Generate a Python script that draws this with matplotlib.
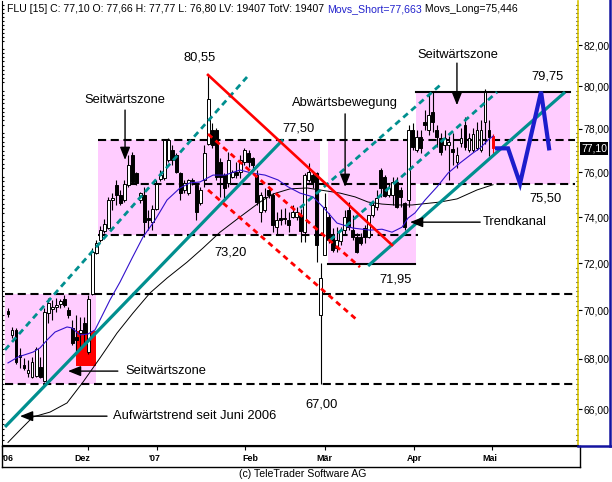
import matplotlib
matplotlib.use('Agg')
import matplotlib.pyplot as plt
from matplotlib.patches import Rectangle
from matplotlib.lines import Line2D
from matplotlib.ticker import FixedLocator, NullFormatter, FuncFormatter
from matplotlib.transforms import blended_transform_factory
import matplotlib.font_manager as fm
import numpy as np

names = {f.name for f in fm.fontManager.ttflist}
SANS = 'Liberation Sans' if 'Liberation Sans' in names else 'DejaVu Sans'
NARROW = 'Liberation Sans Narrow' if 'Liberation Sans Narrow' in names else SANS
plt.rcParams['font.family'] = [SANS, 'DejaVu Sans']

# ---------------- data (daily OHLC, index = trading day) ----------------
opens = [69.97, 68.98, 69.19, 68.17, 67.76, 67.44, 67.28, 67.32, 67.68, 67.12,
         69.89, 70.06, 70.14, 70.26, 70.48, 70.01, 69.27, 68.90, 69.06, 69.48,
         68.29, 70.69, 72.43, 73.00, 73.40, 73.52, 74.76, 75.44, 74.99, 74.76,
         75.44, 76.80, 75.97, 74.76, 74.99, 73.96, 73.78, 74.36, 75.70, 75.75,
         76.57, 77.02, 76.80, 75.97, 75.21, 75.07, 75.62, 75.44, 74.63, 75.66,
         77.30, 77.95, 77.95, 76.48, 75.88, 75.53, 75.79, 76.02, 76.02, 76.48,
         76.89, 76.66, 75.88, 74.23, 74.32, 75.21, 74.99, 73.56, 73.96, 73.96,
         73.87, 74.01, 74.01, 74.05, 73.34, 75.66, 75.88, 75.97, 69.81, 72.34,
         74.01, 73.21, 72.65, 72.95, 73.43, 74.32, 73.43, 73.13, 73.13, 73.52,
         73.13, 74.10, 74.45, 76.11, 75.79, 74.99, 74.99, 75.57, 75.21, 74.63,
         74.76, 77.95, 77.02, 77.62, 78.32, 77.95, 78.79, 77.95, 77.57, 77.25,
         77.25, 77.07, 76.48, 77.35, 78.18, 77.02, 77.02, 77.12, 77.02, 78.32,
         77.95, 77.66]
highs = [70.10, 69.31, 69.27, 68.45, 68.04, 67.96, 68.08, 68.49, 68.08, 70.10,
         70.52, 70.44, 70.52, 70.48, 70.64, 70.14, 69.60, 69.81, 69.72, 69.72,
         70.64, 72.65, 72.99, 73.60, 73.90, 74.90, 75.07, 75.66, 75.21, 75.66,
         76.80, 76.93, 76.02, 75.12, 75.35, 74.32, 74.54, 75.66, 76.10, 77.50,
         77.57, 77.25, 76.89, 76.02, 75.66, 75.70, 75.75, 75.53, 75.35, 77.25,
         80.55, 78.27, 78.04, 76.66, 75.97, 76.93, 76.11, 76.48, 76.80, 77.12,
         77.02, 76.70, 76.11, 75.12, 75.30, 75.35, 75.07, 74.23, 74.36, 74.41,
         74.23, 74.54, 74.45, 74.36, 75.97, 76.43, 76.02, 76.02, 72.00, 75.07,
         74.19, 73.52, 73.56, 73.56, 74.32, 74.67, 74.10, 73.30, 73.30, 73.65,
         74.10, 74.67, 75.21, 76.20, 75.88, 75.53, 75.79, 75.79, 75.35, 74.67,
         78.18, 78.27, 77.95, 77.95, 78.88, 79.73, 79.73, 78.18, 77.80, 77.95,
         77.66, 77.80, 77.16, 78.04, 78.55, 77.80, 78.04, 78.32, 78.41, 79.90,
         78.41, 77.77]
lows = [69.72, 68.86, 67.80, 67.64, 67.56, 67.28, 67.24, 67.28, 67.24, 67.08,
        69.48, 69.60, 69.93, 70.10, 70.14, 69.68, 68.57, 68.25, 68.45, 68.65,
        68.21, 70.64, 72.38, 72.90, 73.30, 73.47, 74.32, 74.54, 74.54, 74.67,
        75.35, 75.53, 75.44, 74.63, 73.13, 73.43, 73.43, 74.32, 75.60, 75.66,
        76.48, 76.34, 75.97, 74.76, 75.07, 74.99, 75.44, 73.87, 74.54, 75.35,
        77.25, 77.10, 75.66, 74.90, 74.85, 75.35, 75.75, 75.75, 75.75, 76.34,
        76.25, 76.11, 74.54, 73.78, 74.23, 74.85, 73.34, 73.21, 73.65, 73.70,
        73.34, 73.96, 73.87, 72.91, 72.91, 75.57, 75.30, 72.04, 67.00, 72.34,
        72.86, 72.47, 72.47, 72.78, 73.21, 73.43, 72.99, 72.43, 72.78, 72.86,
        73.08, 74.01, 74.32, 74.90, 74.90, 74.90, 74.54, 74.41, 74.45, 73.43,
        74.45, 77.02, 76.93, 76.89, 77.95, 77.72, 77.86, 77.16, 76.80, 77.02,
        75.66, 76.34, 76.20, 77.16, 77.02, 76.93, 76.93, 77.02, 76.93, 77.30,
        76.75, 76.80]
closes = [69.85, 69.19, 67.88, 68.09, 67.64, 67.56, 67.88, 68.41, 67.28, 69.93,
          70.31, 70.14, 70.22, 70.39, 70.22, 69.81, 68.65, 68.77, 69.19, 69.06,
          70.48, 72.47, 72.86, 73.45, 73.70, 74.76, 74.85, 74.99, 74.63, 75.48,
          76.34, 75.57, 75.53, 75.07, 73.78, 73.87, 74.36, 75.48, 75.90, 77.48,
          77.48, 76.57, 76.02, 75.07, 75.53, 75.66, 75.66, 74.23, 75.21, 76.89,
          79.40, 77.25, 75.79, 75.79, 75.30, 76.57, 76.02, 75.88, 76.57, 77.02,
          76.48, 76.34, 74.67, 74.99, 74.90, 74.99, 73.65, 73.87, 73.87, 73.92,
          73.65, 74.23, 74.23, 73.38, 75.88, 76.02, 75.57, 72.78, 71.36, 74.45,
          72.99, 72.56, 72.99, 73.43, 74.01, 73.56, 73.13, 72.47, 72.86, 73.13,
          74.10, 74.54, 74.85, 75.30, 74.94, 75.30, 75.57, 74.45, 74.90, 73.56,
          77.95, 77.16, 77.62, 77.12, 78.18, 78.65, 78.32, 77.62, 76.93, 77.57,
          77.39, 76.93, 76.80, 77.57, 77.16, 77.57, 77.76, 77.95, 77.95, 79.73,
          77.62, 77.10]

# moving averages
ma_short_x = [0, 2.5, 6.24, 7.98, 9.73, 11.73, 14.72, 15.97, 17.96, 19.96, 21.71, 22.95,
              25.45, 27.94, 30.94, 33.68, 36.68, 39.67, 42.91, 45.41, 47.9, 51.15, 54.14,
              57.88, 60.88, 64.12, 67.37, 69.86, 72.85, 76.1, 78.59, 82.08, 86.08, 90.32,
              93.31, 95.81, 98.3, 99.8, 101.55, 104.04, 107.04, 109.78, 112.77, 116.02,
              117.76, 119.76, 121]
ma_short_y = [67.84, 68.08, 68.28, 68.45, 68.77, 69.10, 69.31, 69.27, 68.98, 69.02, 69.19, 69.60,
              70.44, 71.19, 72.21, 73.13, 73.87, 74.76, 75.30, 75.53, 75.57, 75.88, 75.88,
              76.11, 75.97, 75.88, 75.66, 75.35, 75.07, 74.90, 74.45, 73.74, 73.52, 73.43,
              73.47, 73.34, 73.56, 73.96, 74.19, 74.76, 75.35, 75.97, 76.43, 76.89,
              77.11, 77.48, 77.663]
ma_long_x = [0, 3, 6.24, 10.48, 14.72, 18.71, 22.95, 27.2, 31.19, 35.43, 39.67, 44.66,
             48.65, 52.89, 57.88, 62.87, 66.12, 70.36, 74.6, 77.84, 82.83, 86.58, 89.82,
             93.31, 96.56, 100.8, 107.78, 112.03, 117.0, 121]
ma_long_y = [64.70, 65.18, 65.69, 65.88, 66.24, 67.07, 68.04, 69.06, 69.89, 70.73, 71.36, 72.04,
             72.65, 73.34, 74.01, 74.67, 75.03, 75.26, 75.30, 75.21, 75.07, 74.90, 74.67,
             74.58, 74.54, 74.54, 74.67, 74.81, 75.21, 75.446]

# zones (x0, x1, price_low, price_high)
zones = [(-0.75, 21.96, 67.0, 70.7), (22.45, 77.84, 73.2, 77.5),
         (79.84, 101.8, 71.95, 77.5), (101.8, 140.2, 75.5, 79.75)]
red_zone = (16.97, 21.96, 67.71, 69.14)
dashed_levels = [(77.5, 22.45, 141.5), (75.5, 29.9, 141.5), (73.2, 22.45, 102.3),
                 (70.7, -0.75, 141.5), (67.0, -0.75, 141.5)]
solid_levels = [(79.75, 101.8, 140.2), (71.95, 79.84, 101.55)]

teal_solid = [((-0.75, 65.30), (68.6, 77.5)), ((89.82, 71.88), (138.97, 79.73))]
teal_dashed = [((-0.75, 68.37), (59.63, 80.45)), ((72.85, 74.41), (107.8, 80.06)),
               ((80.34, 72.99), (122.0, 79.73))]
red_solid = [((49.9, 80.55), (95.81, 72.78))]
red_dashed = [((49.9, 77.76), (87.82, 71.83)), ((49.9, 75.21), (87.08, 69.60))]

proj_x = [122.0, 124.75, 127.74, 132.98, 134.98]
proj_y = [77.1, 77.1, 75.5, 79.75, 77.1]

arrows = [((29.2, 78.88), (29.2, 76.57)), ((84.1, 78.7), (84.1, 75.35)),
          ((112.0, 81.12), (112.0, 79.11)), ((117.8, 73.78), (100.3, 73.78)),
          ((27.4, 67.51), (14.97, 67.51)), ((24.7, 65.72), (3.0, 65.72))]
labels = [("Seitwärtszone", 29.2, 79.35, 'center'), ("80,55", 47.9, 81.37, 'center'),
          ("77,50", 72.6, 78.04, 'center'), ("73,20", 55.6, 72.47, 'center'),
          ("Abwärtsbewegung", 84.1, 79.2, 'center'), ("Seitwärtszone", 112.3, 81.51, 'center'),
          ("79,75", 134.5, 80.49, 'center'), ("75,50", 134.0, 74.85, 'center'),
          ("Trendkanal", 118.5, 73.78, 'left'), ("71,95", 96.6, 71.31, 'center'),
          ("67,00", 78.3, 66.16, 'center'), ("Seitwärtszone", 29.2, 67.51, 'left'),
          ("Aufwärtstrend seit Juni 2006", 26.2, 65.72, 'left')]

month_ticks = [19.96, 37.18, 59.13, 79.09, 101.3, 120.76]
month_label_pos = [-0.2, 18.46, 36.43, 60.38, 78.84, 101.3, 120.26]
month_labels = ["'06", "Dez", "'07", "Feb", "Mär", "Apr", "Mai"]
price_ticks = [66, 68, 70, 72, 74, 76, 78, 80, 82]

title_main = "FLU [15] C: 77,10 O: 77,66 H: 77,77 L: 76,80 LV: 19407 TotV: 19407 "
title_short = "Movs_Short=77,663"
title_long = " Movs_Long=75,446"
last_price = 77.10

# ---------------- figure ----------------
W, H = 612, 482
fig = plt.figure(figsize=(W / 100, H / 100), dpi=100)
fig.patch.set_facecolor('white')

def fx(px):
    return px / W

def fy(py):
    return 1 - py / H

XL = (-1.497, 142.2)
ax = fig.add_axes([fx(2), fy(445), 576 / W, 444 / H])
ax.set_yscale('log')
ax.set_ylim(64.60, 84.18)
ax.set_xlim(*XL)
ax.set_facecolor('white')

PINK = '#ffccff'
TEAL = '#008f8f'
for x0, x1, p0, p1 in zones:
    ax.add_patch(Rectangle((x0, p0), x1 - x0, p1 - p0, facecolor=PINK, edgecolor='none', zorder=1))
x0, x1, p0, p1 = red_zone
ax.add_patch(Rectangle((x0, p0), x1 - x0, p1 - p0, facecolor='#ff0000', edgecolor='none', zorder=1.5))

for p, a, b in dashed_levels:
    ax.plot([a, b], [p, p], color='black', lw=1.5, linestyle=(0, (3.9, 2.2)), zorder=2)
for p, a, b in solid_levels:
    ax.plot([a, b], [p, p], color='black', lw=1.5, zorder=2)

# candles
o = np.array(opens); h = np.array(highs); l = np.array(lows); c = np.array(closes)
xi = np.arange(len(o))
n = len(o)
wick_col = ['black'] * (n - 1) + ['#ff0000']
ax.vlines(xi, l, h, colors=wick_col, lw=0.8, zorder=3)
lo = np.minimum(o, c); hi = np.maximum(o, c)
hgt = np.maximum(hi - lo, 0.04)
face = ['white' if cc >= oo else 'black' for oo, cc in zip(o, c)]
edge = ['black'] * n
face[-1] = '#ff0000'; edge[-1] = '#ff0000'
ax.bar(xi, hgt, bottom=lo, width=0.72, color=face, edgecolor=edge, linewidth=0.7, zorder=3.1)

# moving averages
ax.plot(ma_long_x, ma_long_y, color='black', lw=0.7, zorder=4)
ax.plot(ma_short_x, ma_short_y, color='#3311cc', lw=0.8, zorder=4)

# trend lines
for (a, b) in teal_solid:
    ax.plot([a[0], b[0]], [a[1], b[1]], color=TEAL, lw=2.3, solid_capstyle='butt', zorder=5)
for (a, b) in teal_dashed:
    ax.plot([a[0], b[0]], [a[1], b[1]], color=TEAL, lw=2.0, linestyle=(0, (2.2, 1.6)), zorder=5)
for (a, b) in red_solid:
    ax.plot([a[0], b[0]], [a[1], b[1]], color='#ff0000', lw=1.9, zorder=5)
for (a, b) in red_dashed:
    ax.plot([a[0], b[0]], [a[1], b[1]], color='#ff0000', lw=2.0, linestyle=(0, (2.0, 1.6)), zorder=5)

ax.plot(proj_x, proj_y, color='#1c1ccc', lw=3.0, solid_joinstyle='miter', zorder=5)

for tail, head in arrows:
    ax.annotate('', xy=head, xytext=tail,
                arrowprops=dict(arrowstyle='-|>,head_length=0.55,head_width=0.22',
                                color='black', lw=1.0, shrinkA=0, shrinkB=0,
                                mutation_scale=14), zorder=6)
for txt, xv, pv, ha in labels:
    ax.text(xv, pv, txt, ha=ha, va='center', fontsize=9.3, color='black', zorder=6)

# axes styling
ax.spines['top'].set_visible(False)
ax.spines['left'].set_color('black')
ax.spines['bottom'].set_color('black')
ax.spines['right'].set_color('#d8c400')
ax.spines['right'].set_linewidth(1.2)
ax.set_xticks([])
ax.yaxis.tick_right()
ax.yaxis.set_major_locator(FixedLocator(price_ticks))
ax.yaxis.set_major_formatter(FuncFormatter(lambda v, p: f"{v:.2f}".replace('.', ',')))
ax.yaxis.set_minor_locator(FixedLocator(np.arange(64.6, 84.2, 0.2)))
ax.yaxis.set_minor_formatter(NullFormatter())
ax.tick_params(axis='y', which='major', right=True, left=False, direction='out',
               length=3, width=0.8, pad=1, labelsize=7.5, labelright=True, labelleft=False)
ax.tick_params(axis='y', which='minor', right=True, left=True, direction='in',
               length=1.5, width=0.8)

tr = blended_transform_factory(ax.transAxes, ax.transData)
ax.text(1 + 3 / 576, last_price, f"{last_price:.2f}".replace('.', ','), transform=tr,
        ha='left', va='center', fontsize=7.5, color='white',
        bbox=dict(boxstyle='square,pad=0.12', fc='black', ec='none'), zorder=10, clip_on=False)

# bottom date strip
ax2 = fig.add_axes([fx(2), fy(467), 578 / W, 21 / H])
ax2.set_xlim(XL[0], XL[0] + 578 / 4.008)
ax2.set_ylim(0, 1)
ax2.set_yticks([])
ax2.set_xticks(month_ticks)
ax2.tick_params(axis='x', direction='in', top=True, bottom=False, labelbottom=False,
                length=3, width=0.8)
for s in ax2.spines.values():
    s.set_color('black'); s.set_linewidth(1.0)
nfs = 7.4 if NARROW != SANS else 6.4
for pos, lab in zip(month_label_pos, month_labels):
    ax2.text(pos, 0.42, lab, ha='center', va='center', fontsize=nfs, family=NARROW,
             fontweight='bold')

fig.text(fx(303), fy(474), "(c) TeleTrader Software AG", ha='center', va='center', fontsize=7.6)

# blue frame around price scale
fig.add_artist(Line2D([fx(610), fx(610)], [fy(0), fy(446)], color='#1414a0', lw=1.8))
fig.add_artist(Line2D([fx(578), fx(612)], [fy(446), fy(446)], color='#1414a0', lw=1.8))

# title line (multi colour)
r = fig.canvas.get_renderer()
t1 = fig.text(fx(7), fy(9), title_main, fontsize=7.6, va='center', ha='left', color='black')
bb = t1.get_window_extent(renderer=r)
t2 = fig.text(bb.x1 / fig.bbox.width, fy(9), title_short, fontsize=7.6, va='center', ha='left', color='#2222cc')
bb2 = t2.get_window_extent(renderer=r)
fig.text(bb2.x1 / fig.bbox.width, fy(9), title_long, fontsize=7.6, va='center', ha='left', color='black')

fig.savefig('out.png', dpi=100, facecolor='white')
